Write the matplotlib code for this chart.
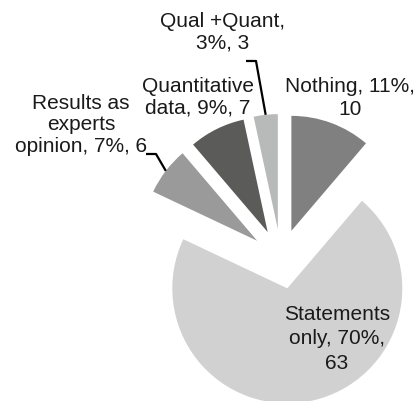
import math
import matplotlib
matplotlib.use("Agg")
import matplotlib.pyplot as plt

# survey answers, drawn clockwise from 12 o'clock
categories = ["Nothing", "Statements only", "Results as experts opinion",
              "Quantitative data", "Qual +Quant"]
counts = [10, 63, 6, 7, 3]
percents = [11, 70, 7, 9, 3]

colors = ["#808080", "#d0d1d0", "#999a99", "#5b5b5a", "#b8b9b9"]

# how each label breaks over lines
label_fmt = [
    "Nothing, {p}%,\n{n}",
    "Statements\nonly, {p}%,\n{n}",
    "Results as\nexperts\nopinion, {p}%, {n}",
    "Quantitative\ndata, {p}%, {n}",
    "Qual +Quant,\n{p}%, {n}",
]
# label centres in axes units (pixels from bottom-left) and line spacing
label_pos = [(350, 303), (337, 62), (81, 276), (198, 304), (223, 369)]
label_spacing = [1.25, 1.35, 1.18, 1.2, 1.15]
# slices whose label gets a leader line: (slice index, elbow start, elbow end)
leaders = [(4, (246, 340), (256, 340)), (2, (146, 247), (156, 247))]

W, H = 420, 401
center = (281, 142)
radius = 115
explode = 30

plt.rcParams["font.family"] = ["Liberation Sans", "DejaVu Sans"]

fig = plt.figure(figsize=(W / 100, H / 100), dpi=100)
ax = fig.add_axes([0, 0, 1, 1])

wedges, _ = ax.pie(counts, colors=colors, startangle=90, counterclock=False,
                   center=center, radius=radius,
                   explode=[explode] * len(counts),
                   wedgeprops=dict(linewidth=0))
ax.set_xlim(0, W)
ax.set_ylim(0, H)
ax.set_aspect("equal")
ax.axis("off")

for fmt, p, n, (x, y), ls in zip(label_fmt, percents, counts, label_pos,
                                 label_spacing):
    ax.text(x, y, fmt.format(p=p, n=n), ha="center", va="center",
            multialignment="center", fontsize=15, color="#1a1a1a",
            linespacing=ls)

for i, start, elbow in leaders:
    w = wedges[i]
    mid = math.radians((w.theta1 + w.theta2) / 2)
    cx, cy = w.center
    end = (cx + w.r * math.cos(mid), cy + w.r * math.sin(mid))
    ax.plot([start[0], elbow[0], end[0]], [start[1], elbow[1], end[1]],
            color="black", linewidth=1.6, solid_capstyle="butt")

fig.savefig("out.png", dpi=100, facecolor="white")
